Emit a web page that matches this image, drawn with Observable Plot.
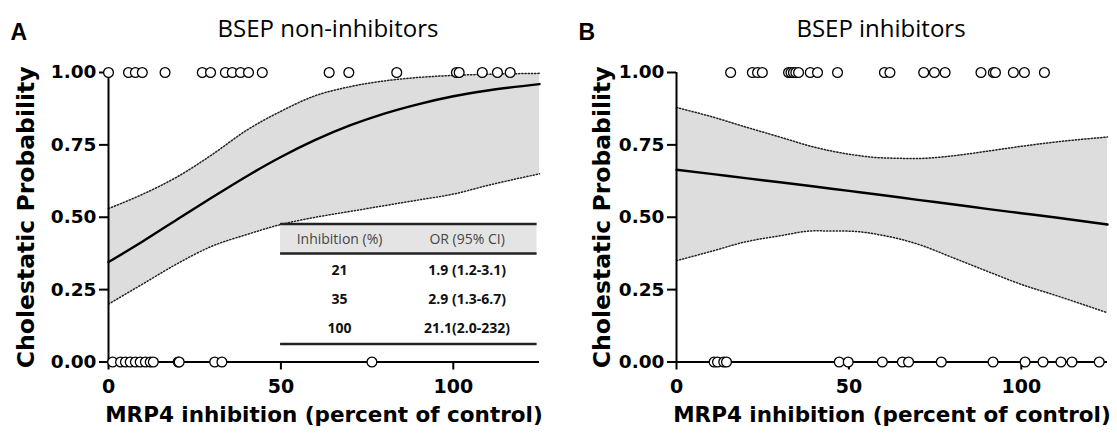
<!DOCTYPE html>
<html>
<head>
<meta charset="utf-8">
<script src="https://cdn.jsdelivr.net/npm/d3@7"></script>
<script src="https://cdn.jsdelivr.net/npm/@observablehq/plot@0.6"></script>
<style>
  body { margin: 0; background: #fff; }
  #wrap { display: flex; width: 1117px; height: 433px; overflow: hidden; }
  #wrap svg { display: block; }
</style>
</head>
<body>
<div id="wrap"></div>
<script>
// ---------- data ----------
const panelLetters = ["A", "B"];
const panelTitles = ["BSEP non-inhibitors", "BSEP inhibitors"];
const xLabel = "MRP4 inhibition (percent of control)";
const yLabel = "Cholestatic Probability";
const xTicks = [0, 50, 100];
const yTicks = [0, 0.25, 0.5, 0.75, 1];

// observed compounds (MRP4 inhibition %), cholestatic (1) / non-cholestatic (0)
const nonInhCholestatic = [0, 5.8, 7.8, 9.8, 16.4, 27.2, 29.6, 33.9, 35.9, 38.3, 40.6, 44.6, 64, 69.7, 83.6, 100.9, 101.7, 108.4, 112.8, 116.5];
const nonInhNonCholestatic = [1.2, 3.5, 4.9, 6.3, 7.8, 9.2, 10.7, 12.1, 13, 20.2, 20.5, 30.8, 32.9, 76.4];
const inhCholestatic = [15.7, 22, 23.5, 24.9, 32.5, 33.2, 33.9, 34.6, 35.4, 38.8, 40.9, 46.7, 60.3, 61.9, 71.7, 74.8, 77.9, 88.3, 91.9, 92.5, 97.7, 100.9, 106.7];
const inhNonCholestatic = [10.9, 11.9, 13.7, 14.5, 47.2, 49.8, 59.7, 65.5, 67.3, 76.8, 91.8, 101.1, 106.3, 111.5, 114.7, 122.6];

// fitted logistic curves and 95% bands
const curveX = [0, 10, 20, 30, 40, 50, 60, 70, 80, 90, 100, 110, 125];
const nonInhFit   = [0.345, 0.417, 0.493, 0.568, 0.641, 0.708, 0.767, 0.817, 0.858, 0.891, 0.918, 0.938, 0.960];
const nonInhLower = [0.200, 0.270, 0.340, 0.400, 0.440, 0.475, 0.500, 0.520, 0.540, 0.560, 0.580, 0.610, 0.650];
const nonInhUpper = [0.530, 0.580, 0.640, 0.716, 0.800, 0.866, 0.920, 0.951, 0.971, 0.983, 0.990, 0.994, 0.997];
const inhFit   = [0.664, 0.650, 0.635, 0.621, 0.606, 0.591, 0.576, 0.560, 0.545, 0.529, 0.514, 0.499, 0.475];
const inhLower = [0.350, 0.382, 0.415, 0.436, 0.453, 0.452, 0.437, 0.407, 0.361, 0.314, 0.268, 0.230, 0.170];
const inhUpper = [0.879, 0.848, 0.812, 0.777, 0.742, 0.718, 0.705, 0.703, 0.712, 0.728, 0.745, 0.760, 0.777];

// inset table
const tableHeaders = ["Inhibition (%)", "OR (95% CI)"];
const tableInhibition = ["21", "35", "100"];
const tableOR = ["1.9 (1.2-3.1)", "2.9 (1.3-6.7)", "21.1(2.0-232)"];

// ---------- layout (not data) ----------
const tableLayout = { x1: 49.9, x2: 124.3, top: 0.477, headBottom: 0.375, bottom: 0.062,
  col1: 67, col2: 104, headY: 0.424, rowY: [0.316, 0.216, 0.117] };

function makePanel(cfg) {
  const curve = curveX.map((x, i) => ({ x, fit: cfg.fit[i], lo: cfg.lo[i], hi: cfg.hi[i] }));
  const pts = [
    ...cfg.ones.map(x => ({ x, y: 1 })),
    ...cfg.zeros.map(x => ({ x, y: 0 }))
  ];
  const marks = [
    Plot.areaY(curve, { x: "x", y1: "lo", y2: "hi", fill: "#dddddd", curve: "monotone-x" }),
    Plot.line(curve, { x: "x", y: "hi", stroke: "#222", strokeWidth: 1.5, strokeDasharray: "1.2,2", curve: "monotone-x" }),
    Plot.line(curve, { x: "x", y: "lo", stroke: "#222", strokeWidth: 1.5, strokeDasharray: "1.2,2", curve: "monotone-x" }),
    Plot.line(curve, { x: "x", y: "fit", stroke: "#000", strokeWidth: 2.4, curve: "monotone-x" }),
  ];
  if (cfg.table) {
    const T = tableLayout;
    marks.push(
      Plot.rect([0], { x1: T.x1, x2: T.x2, y1: T.headBottom, y2: T.top, fill: "#e4e4e4" }),
      Plot.ruleY([T.top, T.headBottom, T.bottom], { x1: T.x1, x2: T.x2, y: d => d, stroke: "#222", strokeWidth: 2.5 }),
      Plot.text(tableHeaders, { x: (d, i) => i === 0 ? T.col1 : T.col2, y: T.headY, text: d => d,
        fontFamily: "Open Sans", fontWeight: "normal", fontSize: 14, fill: "#444", lineAnchor: "middle" }),
      Plot.text(tableInhibition, { x: T.col1, y: (d, i) => T.rowY[i], text: d => d,
        fontFamily: "Open Sans", fontWeight: "bold", fontSize: 14, fill: "#111", lineAnchor: "middle" }),
      Plot.text(tableOR, { x: T.col2, y: (d, i) => T.rowY[i], text: d => d,
        fontFamily: "Open Sans", fontWeight: "bold", fontSize: 14, fill: "#111", lineAnchor: "middle" })
    );
  }
  marks.push(
    Plot.ruleX([0], { stroke: "#000", strokeWidth: 2 }),
    Plot.ruleY([0], { stroke: "#000", strokeWidth: 2 }),
    Plot.axisX(xTicks, { tickSize: 8, tickPadding: 9, strokeWidth: 2, fontSize: 19, label: null }),
    Plot.axisY(yTicks, { tickSize: 9, tickPadding: 3, strokeWidth: 2, fontSize: 18.5, tickFormat: d3.format(".2f"), label: null }),
    Plot.dot(pts, { x: "x", y: "y", r: 4.9, fill: "white", stroke: "#000", strokeWidth: 1.3 }),
    Plot.text([cfg.letter], { frameAnchor: "top-left", dx: -98, dy: -40, textAnchor: "start", lineAnchor: "middle",
      fontFamily: "Liberation Sans", fontWeight: "bold", fontSize: 23 }),
    Plot.text([cfg.title], { frameAnchor: "top", dx: cfg.titleDx, dy: -43, lineAnchor: "middle",
      fontFamily: "Open Sans", fontWeight: "normal", fontSize: 24 }),
    Plot.text([yLabel], { frameAnchor: "left", dx: cfg.yLabelDx, rotate: -90, textAnchor: "middle", lineAnchor: "middle", fontSize: 23.5 }),
    Plot.text([xLabel], { frameAnchor: "bottom", dy: 53, textAnchor: "middle", lineAnchor: "middle", fontSize: 21.5 })
  );
  return Plot.plot({
    width: cfg.width, height: 433,
    marginLeft: cfg.ml, marginRight: cfg.mr, marginTop: 72, marginBottom: 71.5,
    x: { domain: [0, 125] },
    y: { domain: [0, 1] },
    style: { fontFamily: "DejaVu Sans", fontWeight: "bold", color: "#000", background: "white", overflow: "visible" },
    marks
  });
}

const wrap = document.getElementById("wrap");
wrap.append(makePanel({
  letter: panelLetters[0], title: panelTitles[0], titleDx: 4, yLabelDx: -82,
  ones: nonInhCholestatic, zeros: nonInhNonCholestatic,
  fit: nonInhFit, lo: nonInhLower, hi: nonInhUpper,
  table: true, width: 560, ml: 108, mr: 21
}));
wrap.append(makePanel({
  letter: panelLetters[1], title: panelTitles[1], titleDx: -11, yLabelDx: -74,
  ones: inhCholestatic, zeros: inhNonCholestatic,
  fit: inhFit, lo: inhLower, hi: inhUpper,
  table: false, width: 557, ml: 116, mr: 10
}));
</script>
</body>
</html>
